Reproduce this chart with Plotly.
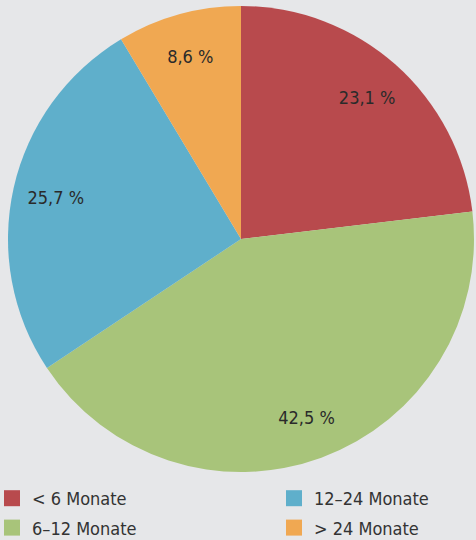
import plotly.graph_objects as go

categories = ["< 6 Monate", "6–12 Monate", "12–24 Monate", "> 24 Monate"]
values = [23.1, 42.5, 25.7, 8.6]
value_labels = ["23,1 %", "42,5 %", "25,7 %", "8,6 %"]
colors = ["#B84A4D", "#A8C47A", "#5FAFCB", "#F0A852"]
legend_col1 = [0, 1]
legend_col2 = [2, 3]

BG = "#E6E7E9"
FONT = "DejaVu Sans Condensed, Liberation Sans, Arial, sans-serif"
DOMAIN = dict(x=[8/476, 474/476], y=[1-472/540, 1-6/540])

fig = go.Figure()
# filled pie
fig.add_trace(go.Pie(
    labels=categories, values=values,
    marker=dict(colors=colors, line=dict(width=0)),
    textinfo="none", sort=False, direction="clockwise", rotation=0,
    showlegend=False, hoverinfo="label+percent", domain=DOMAIN,
))
# transparent ring carrying the value labels
fig.add_trace(go.Pie(
    labels=categories, values=values, hole=0.63,
    text=value_labels, texttemplate="%{text}",
    textposition="inside", insidetextorientation="horizontal",
    textfont=dict(family=FONT, size=18, color="#2A2A2A"),
    marker=dict(colors=["rgba(0,0,0,0)"] * len(values), line=dict(width=0)),
    sort=False, direction="clockwise", rotation=0,
    showlegend=False, hoverinfo="skip", domain=DOMAIN,
))

for legend_name, idxs in (("legend", legend_col1), ("legend2", legend_col2)):
    for i in idxs:
        fig.add_trace(go.Scatter(
            x=[None], y=[None], mode="markers", name=categories[i],
            legend=legend_name, legendgroup=categories[i],
            marker=dict(symbol="square", size=16, color=colors[i]),
            showlegend=True, hoverinfo="skip",
        ))

legend_common = dict(
    orientation="v", yanchor="top", y=1-480/540, xanchor="left",
    tracegroupgap=3, font=dict(family=FONT, size=18, color="#333333"),
    bgcolor="rgba(0,0,0,0)", itemclick=False, itemdoubleclick=False,
)

fig.update_layout(
    width=476, height=540,
    margin=dict(l=0, r=0, t=0, b=0, autoexpand=False),
    paper_bgcolor=BG, plot_bgcolor=BG,
    xaxis=dict(visible=False), yaxis=dict(visible=False),
    legend=dict(x=-8/476, **legend_common),
    legend2=dict(x=274/476, **legend_common),
)

fig.write_html("out.html", config={"displayModeBar": False},
               post_script="document.body.style.margin='0';")
